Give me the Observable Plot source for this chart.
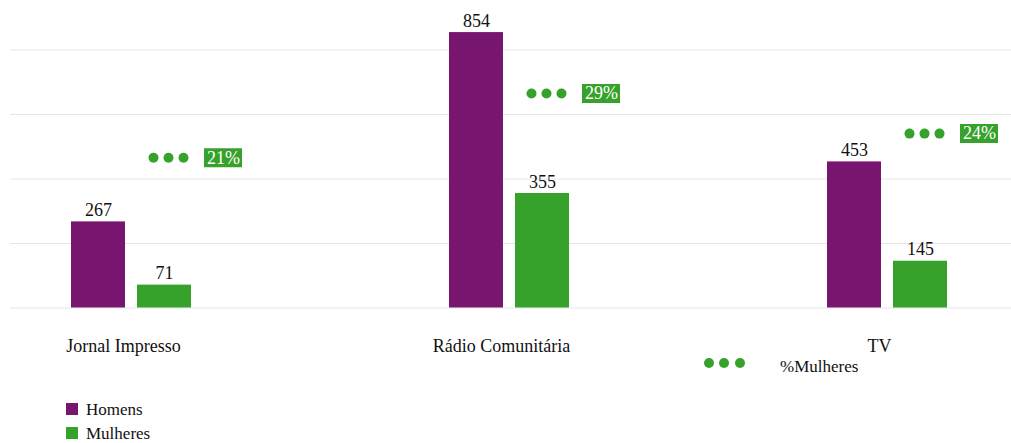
<!DOCTYPE html>
<html>
<head>
<meta charset="utf-8">
<script src="https://cdn.jsdelivr.net/npm/d3@7"></script>
<script src="https://cdn.jsdelivr.net/npm/@observablehq/plot@0.6"></script>
<style>
  html, body { margin: 0; padding: 0; background: #fff; }
  #wrap { position: relative; width: 1011px; height: 443px; }
  #legend { position: absolute; left: 0; top: 0; }
</style>
</head>
<body>
<div id="wrap"></div>
<script>
// ---- data ----
const categories = ["Jornal Impresso", "Rádio Comunitária", "TV"];
const homens = [267, 854, 453];
const mulheres = [71, 355, 145];
const pctMulheres = [21, 29, 24];
const yTicks = [0, 200, 400, 600, 800];
const seriesNames = ["Homens", "Mulheres", "%Mulheres"];

const purple = "#78166f";
const green = "#36a12b";

// secondary (percentage) axis expressed in primary units
const pctToValue = d3.scaleLinear([0, 40], [-57.6, 939.6]);

const barsH = categories.map((c, i) => ({category: c, value: homens[i]}));
const barsM = categories.map((c, i) => ({category: c, value: mulheres[i]}));
const pct = categories.map((c, i) => ({category: c, pct: pctMulheres[i], v: pctToValue(pctMulheres[i])}));

const font = "Liberation Serif";

const chart = Plot.plot({
  width: 1011,
  height: 360,
  marginLeft: 10,
  marginRight: 0,
  marginTop: 0,
  marginBottom: 52,
  style: {fontFamily: font, fontSize: "18px", color: "#111", background: "transparent"},
  x: {domain: categories, range: [-66, 1068], padding: 0, axis: null},
  y: {domain: [0, 1000], range: [307.5, -15], axis: null},
  marks: [
    Plot.ruleY(yTicks, {stroke: "#e6e6e6", strokeWidth: 1}),
    Plot.barY(barsH, {x: "category", y: "value", fill: purple, insetLeft: 137, insetRight: 187}),
    Plot.barY(barsM, {x: "category", y: "value", fill: green, insetLeft: 203, insetRight: 121}),
    Plot.text(barsH, {x: "category", y: "value", text: d => String(d.value), dx: -25, dy: -6, lineAnchor: "bottom", fontSize: 18, fontFamily: font, fill: "#111"}),
    Plot.text(barsM, {x: "category", y: "value", text: d => String(d.value), dx: 41, dy: -6, lineAnchor: "bottom", fontSize: 18, fontFamily: font, fill: "#111"}),
    Plot.dot(pct, {x: "category", y: "v", dx: 30, r: 5, fill: green, stroke: null}),
    Plot.dot(pct, {x: "category", y: "v", dx: 45, r: 5, fill: green, stroke: null}),
    Plot.dot(pct, {x: "category", y: "v", dx: 60, r: 5, fill: green, stroke: null}),
    Plot.tickY(pct, {x: "category", y: "v", stroke: green, strokeWidth: 19, insetLeft: 270, insetRight: 70}),
    Plot.text(pct, {x: "category", y: "v", text: d => d.pct + "%", dx: 100, fill: "#fff", fontSize: 18, fontFamily: font}),
    Plot.axisX({domain: categories, tickSize: 0, tickPadding: 31, fontSize: 18, fontFamily: font, fill: "#111", label: null})
  ]
});

const wrap = document.getElementById("wrap");
wrap.appendChild(chart);

// ---- legends (overlay svg) ----
const svg = d3.select(wrap).append("svg")
  .attr("id", "legend")
  .attr("width", 1011).attr("height", 443)
  .style("font-family", font)
  .style("font-size", "17px");

// %Mulheres legend: dots + label
svg.selectAll("circle.lgd").data([709, 724, 740]).join("circle")
  .attr("cx", d => d).attr("cy", 363).attr("r", 5).attr("fill", green);
svg.append("text").attr("x", 780).attr("y", 371.5).attr("fill", "#111").text(seriesNames[2]);

// Homens / Mulheres
const items = [{name: seriesNames[0], color: purple, y: 403}, {name: seriesNames[1], color: green, y: 427}];
items.forEach(it => {
  svg.append("rect").attr("x", 66).attr("y", it.y).attr("width", 12).attr("height", 12).attr("fill", it.color);
  svg.append("text").attr("x", 86).attr("y", it.y + 12).attr("fill", "#111").text(it.name);
});
</script>
</body>
</html>
